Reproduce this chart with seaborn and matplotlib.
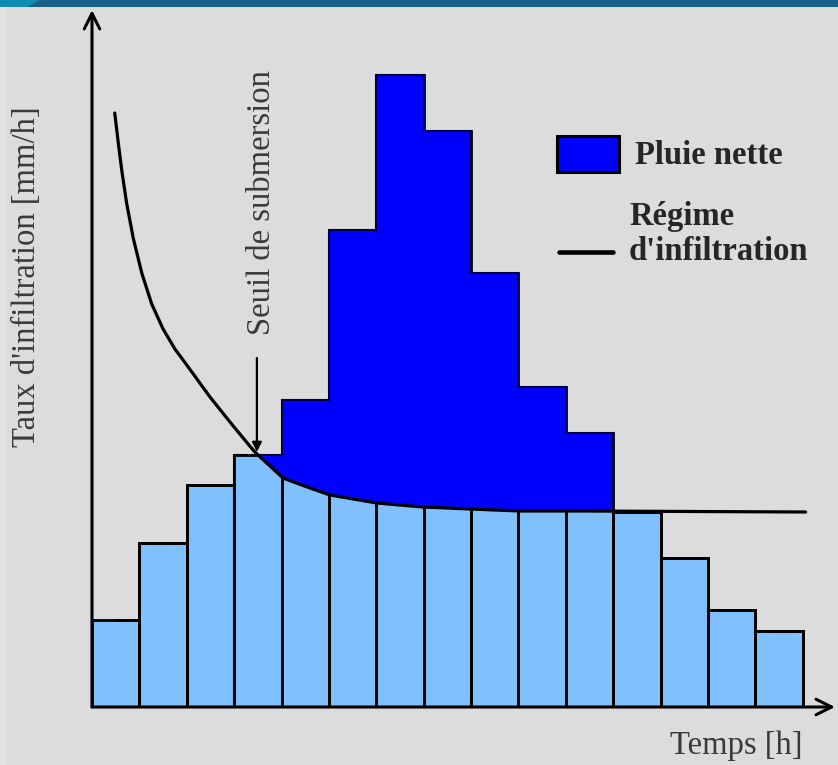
import numpy as np
import matplotlib
matplotlib.use("Agg")
import matplotlib.pyplot as plt
import matplotlib.patches as mpatches
import matplotlib.lines as mlines
import seaborn as sns

# rain intensity per time step (mm/h)
rain = [8.7, 16.4, 22.2, 25.2, 30.7, 47.7, 63.2, 57.6, 43.4, 32.0, 27.4, 19.5, 14.9, 9.7, 7.6]
# steps where rain goes over the infiltration capacity
excess_steps = [3, 4, 5, 6, 7, 8, 9, 10]

# infiltration capacity curve
curve_t = [-0.02, 0.06, 0.13, 0.23, 0.37, 0.55, 0.76, 1.00, 1.25, 1.50, 1.99,
           2.48, 2.90, 2.98, 3.53, 4.04, 4.52, 5.51, 6.48, 7.47, 8.53, 9.86, 14.56]
curve_f = [59.4, 56.2, 53.6, 50.4, 46.9, 43.4, 40.3, 37.8, 35.8, 34.2, 31.0,
           28.1, 25.7, 25.3, 22.9, 22.0, 21.2, 20.4, 20.0, 19.8, 19.6, 19.6, 19.5]

light_blue = "#80c0ff"
dark_blue = "#0000ff"
bg = "#dcdcdc"

sns.set_style("white")
plt.rcParams["font.family"] = ["Liberation Serif", "DejaVu Serif"]

W, H = 838, 765
fig = plt.figure(figsize=(W / 100, H / 100), dpi=100, facecolor=bg)
ax = fig.add_axes([92 / W, (H - 707) / H, (835 - 92) / W, (707 - 10) / H])
ax.set_facecolor(bg)

steps = np.arange(len(rain))

# all rain bars, light blue
sns.barplot(x=steps, y=rain, color=light_blue, saturation=1, width=1,
            edgecolor="black", linewidth=2, ax=ax, zorder=1)

# excess rain (dark blue) as one step shape
ex_vals = [rain[i] for i in excess_steps]
ex_edges = np.arange(excess_steps[0], excess_steps[-1] + 2) - 0.5
step_patch = ax.stairs(ex_vals, ex_edges, baseline=0, fill=True,
                       facecolor=dark_blue, edgecolor="#000040", linewidth=1.5, zorder=2)

# infiltrated part under the curve inside those steps
under = ax.fill_between(curve_t, 0, curve_f, color=light_blue, linewidth=0, zorder=3)
under.set_clip_path(step_patch)

# bar outlines below the curve
n0 = len(ax.patches)
sns.barplot(x=steps, y=rain, fill=False, color="black", width=1,
            linewidth=2, ax=ax)
clip = under.get_paths()[0]
for p in ax.patches[n0:]:
    p.set_zorder(4)
    p.set_clip_path(clip, ax.transData)

# infiltration regime
sns.lineplot(x=curve_t, y=curve_f, color="black", linewidth=2.3, ax=ax, zorder=5)

ax.set_xlim(-0.5, 15.18)
ax.set_ylim(0, 69.7)
ax.set_xticks([])
ax.set_yticks([])
ax.set_xlabel("")
ax.set_ylabel("")
for s in ax.spines.values():
    s.set_visible(False)

# axes with arrows
ax.annotate("", xy=(1, 0), xytext=(0, 0), xycoords="axes fraction",
            arrowprops=dict(arrowstyle="->", lw=2.2, color="black", mutation_scale=28,
                            shrinkA=0, shrinkB=0), zorder=6, annotation_clip=False)
ax.annotate("", xy=(0, 1), xytext=(0, 0), xycoords="axes fraction",
            arrowprops=dict(arrowstyle="->", lw=2.2, color="black", mutation_scale=28,
                            shrinkA=0, shrinkB=0), zorder=6, annotation_clip=False)

# submersion threshold
ax.annotate("", xy=(2.98, 25.5), xytext=(2.98, 34.9),
            arrowprops=dict(arrowstyle="-|>", lw=1.6, color="black", mutation_scale=14,
                            shrinkA=0, shrinkB=0), zorder=6)
ax.text(3.09, 37.2, "Seuil de submersion", rotation=90, ha="center", va="bottom",
        fontsize=23.5, color="#3a3a3a")

# axis labels
fig.text(27 / W, 1 - 277 / H, "Taux d'infiltration [mm/h]", rotation=90,
         ha="center", va="center", fontsize=23.5, color="#3a3a3a")
fig.text(802 / W, 1 - 746 / H, "Temps [h]", ha="right", va="center",
         fontsize=23.5, color="#3a3a3a")

# legend
fig.patches.append(mpatches.Rectangle((557 / W, 1 - 172 / H), 62 / W, 36 / H,
                                      transform=fig.transFigure, facecolor=dark_blue,
                                      edgecolor="black", linewidth=2.2))
fig.text(635 / W, 1 - 156 / H, "Pluie nette", ha="left", va="center",
         fontsize=23.5, fontweight="bold")
fig.lines.append(mlines.Line2D([559 / W, 613 / W], [1 - 252 / H, 1 - 252 / H],
                               transform=fig.transFigure, color="black", linewidth=3.3))
fig.text(629 / W, 1 - 217 / H, "Régime", ha="left", va="center",
         fontsize=23.5, fontweight="bold")
fig.text(629 / W, 1 - 252 / H, "d'infiltration", ha="left", va="center",
         fontsize=23.5, fontweight="bold")

# header band
fig.patches.append(mpatches.Rectangle((0, 1 - 7 / H), 1, 7 / H, transform=fig.transFigure,
                                      facecolor="#1a5e8a", edgecolor="none"))
fig.patches.append(mpatches.Polygon([[0, 1], [40 / W, 1], [27 / W, 1 - 7 / H], [0, 1 - 7 / H]],
                                    transform=fig.transFigure, facecolor="#0e8db0",
                                    edgecolor="none"))
fig.patches.append(mpatches.Rectangle((0, 0), 6 / W, 1 - 7 / H, transform=fig.transFigure,
                                      facecolor="#e2e2e2", edgecolor="none"))

fig.savefig("out.png", dpi=100, facecolor=bg)
